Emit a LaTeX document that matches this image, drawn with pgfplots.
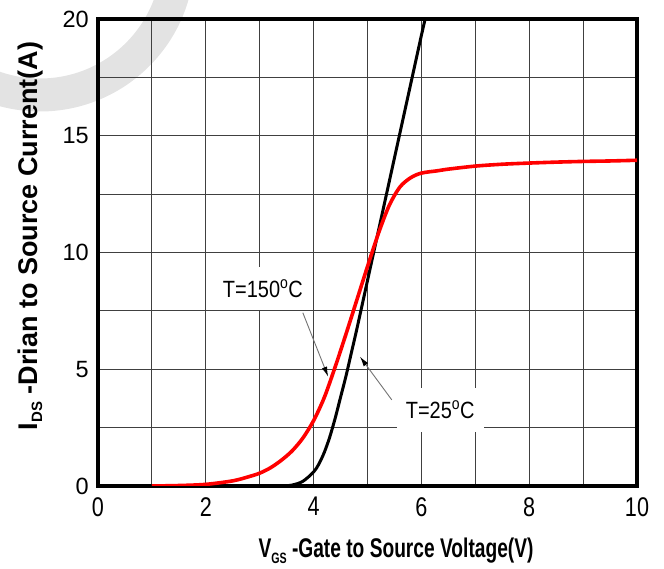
\documentclass[border=0pt]{standalone}
\usepackage{fontspec}
\setmainfont{Liberation Sans}
\newfontfamily\narrowsans{Liberation Sans}[FakeStretch=0.85]
\newfontfamily\ticksans{Liberation Sans}[FakeStretch=0.8]
\newfontfamily\narrowersans{Liberation Sans}[FakeStretch=0.71]
\usepackage{pgfplots}
\pgfplotsset{compat=1.18}
\usetikzlibrary{arrows.meta}

\begin{document}
\begin{tikzpicture}
\useasboundingbox (0pt,0pt) rectangle (664pt,569pt);
% faint circular watermark behind the chart
\begin{scope}
  \clip (0pt,0pt) rectangle (664pt,569pt);
  \draw[line width=33pt, color=black!11] (40pt,612pt) circle[radius=138pt];
\end{scope}

\begin{axis}[
  at={(98pt,83pt)}, anchor=south west,
  scale only axis, width=539pt, height=467pt,
  xmin=0, xmax=10, ymin=0, ymax=20,
  xtick={0,2,...,10}, ytick={0,5,...,20},
  minor xtick={1,3,5,7,9}, minor ytick={2.5,7.5,12.5,17.5},
  grid=both,
  major grid style={line width=1.1pt, color=black!75},
  minor grid style={line width=1.1pt, color=black!75},
  major tick length=0pt, minor tick length=0pt,
  axis line style={line width=3.6pt, line cap=rect},
  /pgf/number format/assume math mode=true,
  xticklabel style={font=\ticksans\fontsize{27}{27}\selectfont, anchor=north, inner sep=0pt, yshift=-11pt},
  yticklabel style={font=\fontsize{23.5}{23.5}\selectfont, anchor=east, inner sep=0pt, xshift=-9pt},
]
% label boxes hide the grid behind the text
\node[fill=white, inner xsep=9pt, minimum height=43pt,
      font=\narrowsans\fontsize{23.5}{23.5}\selectfont]
  at (axis cs:3.06,8.45) {T=150\textsuperscript{o}C};
\node[fill=white, inner xsep=9pt, minimum height=44pt,
      font=\narrowsans\fontsize{23.5}{23.5}\selectfont]
  at (axis cs:6.35,3.26) {T=25\textsuperscript{o}C};

% leader arrows
\draw[color=black!55, line width=0.9pt, -{Latex[length=10pt, width=5.5pt, color=black]}]
  (axis cs:3.80,7.42) -- (axis cs:4.27,4.68);
\draw[color=black!55, line width=0.9pt, -{Latex[length=10pt, width=5.5pt, color=black]}]
  (axis cs:5.45,3.69) -- (axis cs:4.86,5.54);

% T = 25 C
\addplot[black, line width=3pt, smooth, tension=0.5] coordinates {
  (3.4,0) (3.6,0.04) (3.8,0.2) (4.0,0.6) (4.1,0.95) (4.2,1.45) (4.3,2.1)
  (4.4,2.9) (4.5,3.8) (4.6,4.7) (4.7,5.7) (4.8,6.7) (5.0,8.8) (5.2,10.9)
  (5.4,13.0) (5.6,15.1) (5.8,17.2) (6.0,19.3) (6.1,20.3)
};
% T = 150 C
\addplot[red, line width=3.6pt, smooth, tension=0.5] coordinates {
  (1,0) (1.5,0.02) (2,0.07) (2.5,0.22) (2.8,0.4) (3.0,0.55) (3.2,0.78)
  (3.4,1.1) (3.6,1.5) (3.8,2.05) (4.0,2.8) (4.2,3.8) (4.4,5.1) (4.6,6.5)
  (4.8,7.95) (5.0,9.4) (5.2,10.8) (5.4,12.0) (5.6,12.8) (5.8,13.2)
  (6.0,13.4) (6.3,13.5) (6.5,13.57) (7,13.7) (7.5,13.78) (8,13.83)
  (8.5,13.87) (9,13.9) (9.5,13.92) (10,13.95)
};
\end{axis}

% axis titles
\node[rotate=90, anchor=base, font=\bfseries\fontsize{27}{27}\selectfont]
  at (37pt,333pt) {I\raisebox{-5pt}{\fontsize{15}{15}\selectfont DS} -Drian to Source Current(A)};
\node[anchor=base, font=\narrowersans\bfseries\fontsize{27}{27}\selectfont]
  at (396pt,11pt) {V\raisebox{-6pt}{\fontsize{15}{15}\selectfont GS} -Gate to Source Voltage(V)};
\end{tikzpicture}
\end{document}
